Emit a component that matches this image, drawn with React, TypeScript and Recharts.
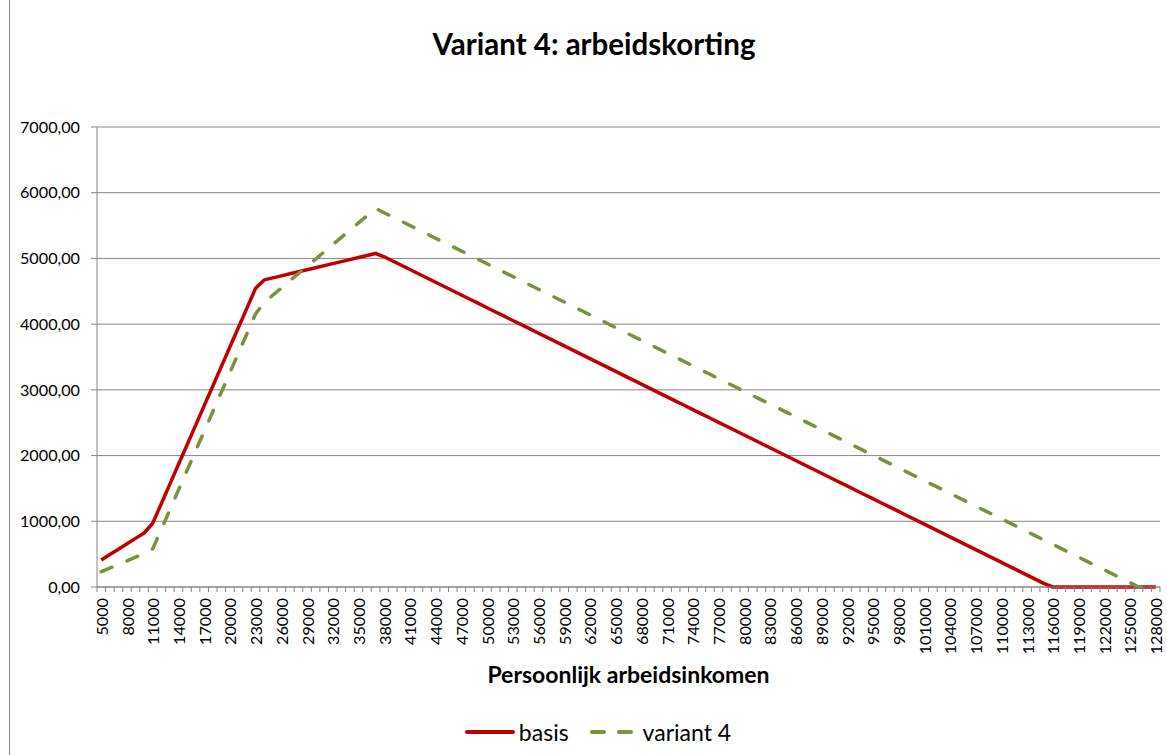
import React from 'react';
import { LineChart, Line, XAxis, YAxis, CartesianGrid, Legend, Label } from 'recharts';

// persoonlijk arbeidsinkomen (categories, step 1000)
const incomes = [
  5000, 6000, 7000, 8000, 9000, 10000, 11000, 12000, 13000, 14000,
  15000, 16000, 17000, 18000, 19000, 20000, 21000, 22000, 23000, 24000,
  25000, 26000, 27000, 28000, 29000, 30000, 31000, 32000, 33000, 34000,
  35000, 36000, 37000, 38000, 39000, 40000, 41000, 42000, 43000, 44000,
  45000, 46000, 47000, 48000, 49000, 50000, 51000, 52000, 53000, 54000,
  55000, 56000, 57000, 58000, 59000, 60000, 61000, 62000, 63000, 64000,
  65000, 66000, 67000, 68000, 69000, 70000, 71000, 72000, 73000, 74000,
  75000, 76000, 77000, 78000, 79000, 80000, 81000, 82000, 83000, 84000,
  85000, 86000, 87000, 88000, 89000, 90000, 91000, 92000, 93000, 94000,
  95000, 96000, 97000, 98000, 99000, 100000, 101000, 102000, 103000, 104000,
  105000, 106000, 107000, 108000, 109000, 110000, 111000, 112000, 113000, 114000,
  115000, 116000, 117000, 118000, 119000, 120000, 121000, 122000, 123000, 124000,
  125000, 126000, 127000, 128000,
];

const basis = [
  411, 493, 575, 657, 740, 822, 970, 1268, 1566, 1864,
  2162, 2460, 2758, 3056, 3354, 3652, 3950, 4248, 4546, 4673,
  4704, 4735, 4766, 4797, 4828, 4859, 4890, 4921, 4951, 4982,
  5013, 5044, 5075, 5025, 4960, 4896, 4831, 4767, 4702, 4637,
  4573, 4508, 4444, 4379, 4315, 4250, 4185, 4121, 4056, 3992,
  3927, 3862, 3798, 3733, 3669, 3604, 3540, 3475, 3410, 3346,
  3281, 3217, 3152, 3088, 3023, 2958, 2894, 2829, 2765, 2700,
  2635, 2571, 2506, 2442, 2377, 2313, 2248, 2183, 2119, 2054,
  1990, 1925, 1860, 1796, 1731, 1667, 1602, 1538, 1473, 1408,
  1344, 1279, 1215, 1150, 1085, 1021, 956, 892, 827, 763,
  698, 633, 569, 504, 440, 375, 311, 246, 181, 117,
  52, 0, 0, 0, 0, 0, 0, 0, 0, 0,
  0, 0, 0, 0,
];

const variant4 = [
  233, 288, 343, 398, 453, 508, 580, 878, 1176, 1474,
  1772, 2070, 2368, 2666, 2964, 3262, 3560, 3858, 4156, 4330,
  4440, 4550, 4660, 4770, 4880, 4990, 5100, 5210, 5320, 5430,
  5540, 5650, 5760, 5695, 5631, 5566, 5501, 5436, 5372, 5307,
  5242, 5178, 5113, 5048, 4984, 4919, 4854, 4789, 4725, 4660,
  4595, 4531, 4466, 4401, 4337, 4272, 4207, 4142, 4078, 4013,
  3948, 3884, 3819, 3754, 3690, 3625, 3560, 3495, 3431, 3366,
  3301, 3237, 3172, 3107, 3043, 2978, 2913, 2848, 2784, 2719,
  2654, 2590, 2525, 2460, 2396, 2331, 2266, 2201, 2137, 2072,
  2007, 1943, 1878, 1813, 1749, 1684, 1619, 1554, 1490, 1425,
  1360, 1296, 1231, 1166, 1102, 1037, 972, 907, 843, 778,
  713, 649, 584, 519, 455, 390, 325, 260, 196, 131,
  66, 0, 0, 0,
];

const yTicks = [0, 1000, 2000, 3000, 4000, 5000, 6000, 7000];

const data = incomes.map((inkomen, i) => ({
  inkomen,
  basis: basis[i],
  variant: variant4[i],
}));

const FONT = 'Lato, "Open Sans", sans-serif';
const GRID = '#868686';
const RED = '#C00000';
const GREEN = '#77933C';
const PLOT_LEFT = 97;
const PLOT_RIGHT = 1160;
const STEP = (PLOT_RIGHT - PLOT_LEFT) / incomes.length;
const TICK_FONT = 16.2;

const fmt = (v: number) => v.toFixed(2).replace('.', ',');

// tick marks sit between categories (like Excel), label on every third one
const XTick = (props: any) => {
  const { x, y, index, payload } = props;
  const left = x - STEP / 2;
  return (
    <g>
      <line x1={left} x2={left} y1={y} y2={y + 5} stroke={GRID} />
      {index === incomes.length - 1 && (
        <line x1={x + STEP / 2} x2={x + STEP / 2} y1={y} y2={y + 5} stroke={GRID} />
      )}
      {index % 3 === 0 && (
        <text
          x={x}
          y={y + 11}
          transform={`rotate(-90, ${x}, ${y + 11})`}
          textAnchor="end"
          dominantBaseline="central"
          fontSize={TICK_FONT}
          fontFamily={FONT}
          fill="#000"
        >
          {payload.value}
        </text>
      )}
    </g>
  );
};

const LegendBox = () => (
  <div
    style={{
      height: 46,
      display: 'flex',
      justifyContent: 'center',
      alignItems: 'center',
      paddingLeft: 36,
      fontFamily: FONT,
      fontSize: 23,
      color: '#000',
    }}
  >
    <svg width={50} height={10}>
      <line x1={2} x2={48} y1={5} y2={5} stroke={RED} strokeWidth={4} strokeLinecap="round" />
    </svg>
    <span style={{ marginLeft: 4 }}>basis</span>
    <svg width={48} height={10} style={{ marginLeft: 20 }}>
      <line x1={3} x2={15} y1={5} y2={5} stroke={GREEN} strokeWidth={4} strokeLinecap="round" />
      <line x1={30} x2={42} y1={5} y2={5} stroke={GREEN} strokeWidth={4} strokeLinecap="round" />
    </svg>
    <span style={{ marginLeft: 6 }}>variant 4</span>
  </div>
);

export default function App() {
  return (
    <div style={{ position: 'absolute', left: 0, top: 0, width: 1167, height: 755, background: '#fff', overflow: 'hidden' }}>
      <div style={{ position: 'absolute', left: 9, top: 0, width: 0, height: 755, borderLeft: '1px solid #8c8c8c' }} />
      <div
        style={{
          position: 'absolute',
          left: 0,
          width: 1188,
          top: 26,
          textAlign: 'center',
          fontFamily: FONT,
          fontWeight: 700,
          fontSize: 29.5,
          color: '#000',
        }}
      >
        Variant 4: arbeidskorting
      </div>
      <LineChart
        width={1167}
        height={755}
        data={data}
        margin={{ top: 127, right: 1167 - PLOT_RIGHT, bottom: 0, left: 0 }}
      >
        <CartesianGrid vertical={false} stroke={GRID} strokeWidth={1} />
        <XAxis
          dataKey="inkomen"
          interval={0}
          height={122}
          padding={{ left: STEP / 2, right: STEP / 2 }}
          axisLine={{ stroke: GRID }}
          tickLine={false}
          tickSize={0}
          tickMargin={0}
          tick={<XTick />}
        >
          <Label
            value="Persoonlijk arbeidsinkomen"
            position="insideBottom"
            offset={26}
            style={{ fontFamily: FONT, fontWeight: 700, fontSize: 23, fill: '#000' }}
          />
        </XAxis>
        <YAxis
          width={PLOT_LEFT}
          domain={[0, 7000]}
          ticks={yTicks}
          tickFormatter={fmt}
          axisLine={{ stroke: GRID }}
          tickLine={{ stroke: GRID }}
          tickSize={6}
          tickMargin={11}
          tick={{ fontFamily: FONT, fontSize: TICK_FONT, fill: '#000' }}
        />
        <Legend verticalAlign="bottom" content={<LegendBox />} />
        <Line
          type="linear"
          dataKey="basis"
          name="basis"
          stroke={RED}
          strokeWidth={3.5}
          strokeLinejoin="round"
          dot={false}
          activeDot={false}
          isAnimationActive={false}
        />
        <Line
          type="linear"
          dataKey="variant"
          name="variant 4"
          stroke={GREEN}
          strokeWidth={3.5}
          strokeDasharray="11.5 16.5"
          strokeLinecap="round"
          strokeLinejoin="round"
          dot={false}
          activeDot={false}
          isAnimationActive={false}
        />
      </LineChart>
    </div>
  );
}
